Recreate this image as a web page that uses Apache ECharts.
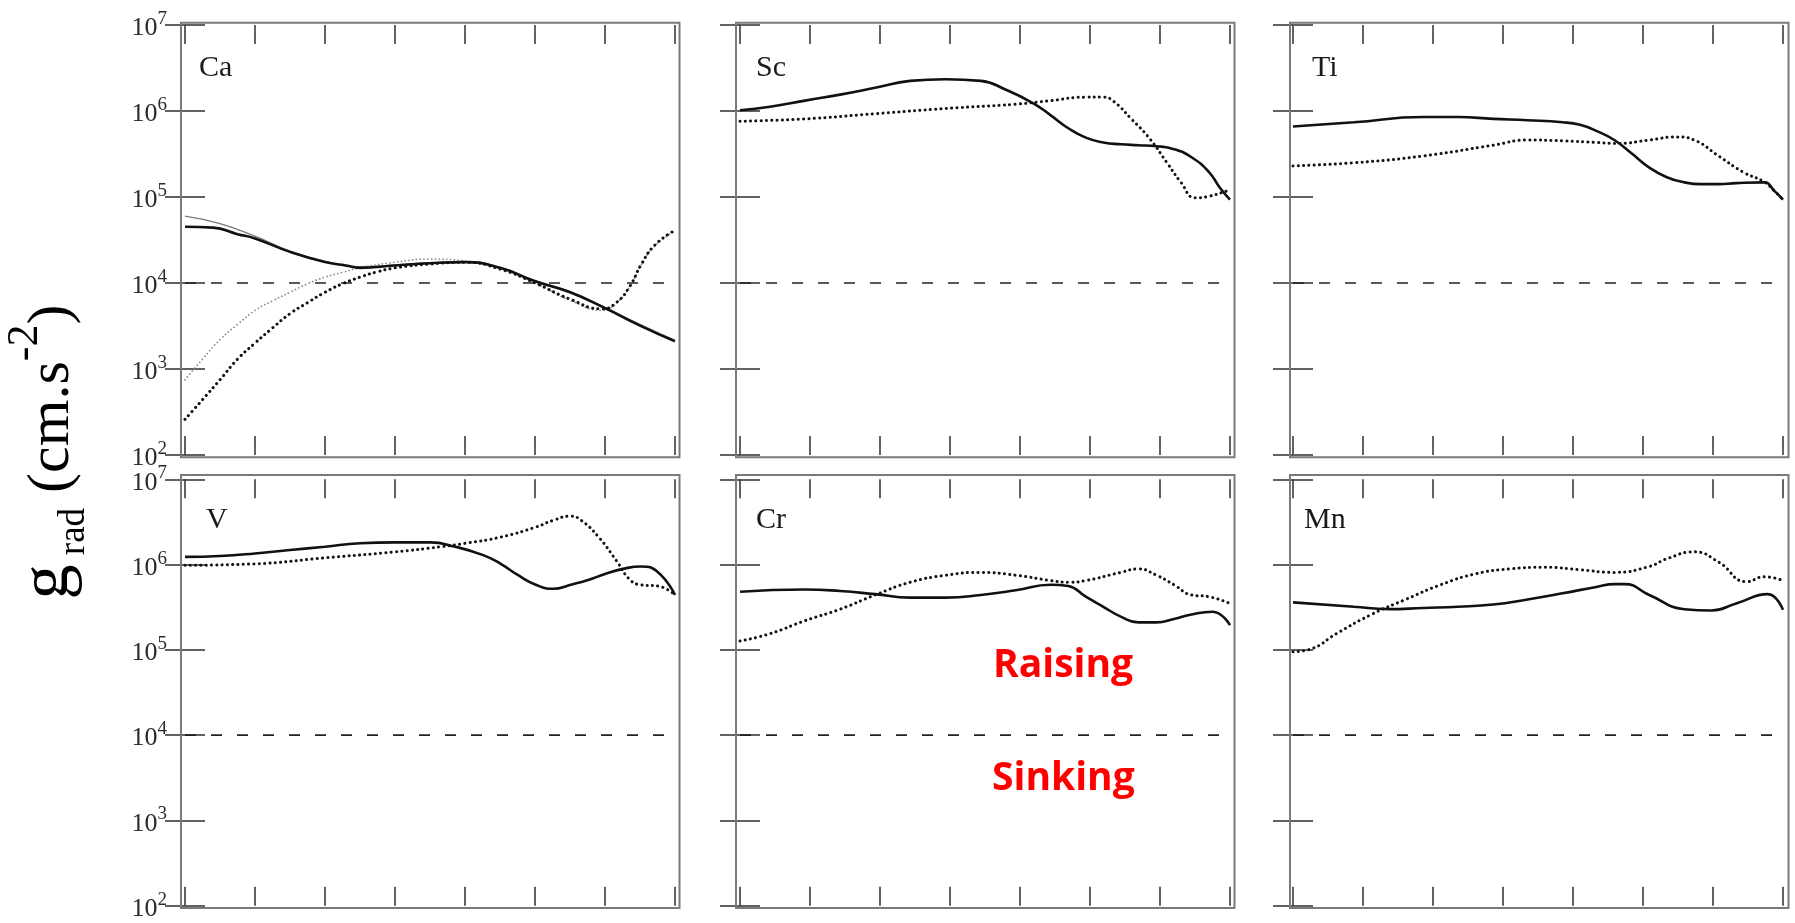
<!DOCTYPE html>
<html>
<head>
<meta charset="utf-8">
<script src="https://cdn.jsdelivr.net/npm/echarts@6/dist/echarts.min.js"></script>
<style>
  html, body { margin: 0; padding: 0; background: #ffffff; }
  #chart { width: 1795px; height: 923px; }
</style>
</head>
<body>
<div id="chart"></div>
<script>
// Radiative accelerations g_rad (cm s^-2) for six elements.
// x runs over the 0..7 tick span of each panel; y is logarithmic.

const elements = ['Ca', 'Sc', 'Ti', 'V', 'Cr', 'Mn'];
const xTicks = [0, 1, 2, 3, 4, 5, 6, 7];
const yTickExponents = [2, 3, 4, 5, 6, 7];
const threshold = [[0, 1e4], [7, 1e4]];

// Ca
const caSolid = [[0, 4.5e4], [0.4, 4.4e4], [0.75, 3.7e4], [1, 3.3e4], [1.5, 2.3e4], [2, 1.75e4], [2.3, 1.6e4], [2.5, 1.5e4], [3, 1.6e4], [3.5, 1.7e4], [4, 1.75e4], [4.5, 1.5e4], [5, 1.05e4], [5.5, 7.8e3], [6, 5.1e3], [6.5, 3.2e3], [7, 2.1e3]];
const caSolidThin = [[0, 6e4], [0.5, 4.9e4], [1, 3.5e4], [1.5, 2.35e4], [2, 1.78e4], [2.5, 1.55e4], [3, 1.62e4], [3.5, 1.72e4], [4, 1.77e4], [4.5, 1.52e4], [5, 1.07e4], [5.5, 8e3], [6, 5.2e3], [6.5, 3.3e3], [7, 2.15e3]];
const caDotted = [[0, 2.6e2], [0.25, 4.4e2], [0.5, 7.5e2], [0.75, 1.3e3], [1, 2.0e3], [1.25, 3.0e3], [1.5, 4.4e3], [1.75, 5.9e3], [2, 7.8e3], [2.25, 9.8e3], [2.5, 1.17e4], [2.75, 1.35e4], [3, 1.5e4], [3.5, 1.66e4], [4, 1.74e4], [4.5, 1.45e4], [5, 1.0e4], [5.5, 6.5e3], [5.96, 5.0e3], [6.16, 5.9e3], [6.36, 9.3e3], [6.51, 1.6e4], [6.71, 2.75e4], [7, 4.1e4]];
const caDottedThin = [[0, 7.5e2], [0.25, 1.3e3], [0.5, 2.2e3], [0.75, 3.3e3], [1, 4.8e3], [1.25, 6.2e3], [1.5, 7.8e3], [1.75, 9.8e3], [2, 1.17e4], [2.25, 1.33e4], [2.5, 1.5e4], [3, 1.74e4], [3.5, 1.9e4], [4, 1.8e4], [4.5, 1.48e4], [5, 1.0e4], [5.5, 6.3e3], [5.96, 4.8e3], [6.16, 5.8e3], [6.36, 9.2e3], [6.51, 1.58e4], [6.71, 2.7e4], [7, 4.0e4]];

// Sc
const scSolid = [[0, 1.02e6], [0.43, 1.12e6], [0.93, 1.32e6], [1.43, 1.55e6], [1.93, 1.86e6], [2.43, 2.24e6], [2.94, 2.34e6], [3.44, 2.24e6], [3.79, 1.78e6], [4.19, 1.23e6], [4.44, 8.9e5], [4.69, 6.3e5], [4.94, 4.9e5], [5.19, 4.3e5], [5.44, 4.1e5], [5.69, 4.0e5], [5.95, 3.9e5], [6.2, 3.6e5], [6.45, 2.9e5], [6.7, 1.95e5], [6.85, 1.3e5], [7, 9.3e4]];
const scDotted = [[0, 7.6e5], [0.93, 8.1e5], [1.93, 9.3e5], [2.94, 1.07e6], [3.94, 1.2e6], [4.44, 1.32e6], [4.94, 1.45e6], [5.19, 1.45e6], [5.34, 1.29e6], [5.59, 8.1e5], [5.85, 4.8e5], [6.1, 2.5e5], [6.3, 1.48e5], [6.5, 9.8e4], [6.7, 1.02e5], [6.95, 1.17e5], [7, 1.2e5]];

// Ti
const tiSolid = [[0, 6.6e5], [0.87, 7.4e5], [1.86, 8.5e5], [2.36, 8.5e5], [2.86, 8.1e5], [3.35, 7.8e5], [3.85, 7.4e5], [4.1, 6.9e5], [4.35, 5.8e5], [4.59, 4.6e5], [4.84, 3.2e5], [5.09, 2.2e5], [5.34, 1.7e5], [5.59, 1.48e5], [5.83, 1.41e5], [6.08, 1.41e5], [6.33, 1.45e5], [6.73, 1.48e5], [6.88, 1.17e5], [7, 9.3e4]];
const tiDotted = [[0, 2.3e5], [0.87, 2.5e5], [1.86, 3.0e5], [2.86, 4.0e5], [3.35, 4.6e5], [3.85, 4.5e5], [4.35, 4.3e5], [4.64, 4.2e5], [5.09, 4.6e5], [5.49, 5.0e5], [5.73, 4.6e5], [6.08, 3.0e5], [6.43, 1.95e5], [6.73, 1.5e5], [6.88, 1.17e5], [7, 9.3e4]];

// V
const vSolid = [[0, 1.23e6], [0.5, 1.26e6], [1, 1.35e6], [1.5, 1.48e6], [2, 1.62e6], [2.5, 1.78e6], [3, 1.82e6], [3.5, 1.82e6], [3.86, 1.62e6], [4.26, 1.29e6], [4.51, 1.02e6], [4.76, 7.5e5], [5.01, 5.8e5], [5.26, 5.2e5], [5.51, 5.8e5], [5.76, 6.6e5], [6.01, 7.8e5], [6.26, 8.9e5], [6.51, 9.5e5], [6.76, 8.1e5], [7, 4.4e5]];
const vDotted = [[0, 9.8e5], [1, 1.02e6], [2, 1.2e6], [3, 1.41e6], [3.66, 1.62e6], [4.01, 1.78e6], [4.51, 2.1e6], [5.01, 2.75e6], [5.26, 3.3e6], [5.51, 3.7e6], [5.66, 3.3e6], [5.91, 2.1e6], [6.16, 1.12e6], [6.36, 6.6e5], [6.51, 5.8e5], [6.76, 5.6e5], [7, 4.4e5]];

// Cr
const crSolid = [[0, 4.8e5], [0.93, 5.1e5], [1.43, 4.9e5], [1.93, 4.5e5], [2.43, 4.1e5], [2.94, 4.1e5], [3.44, 4.4e5], [3.94, 5.0e5], [4.44, 5.8e5], [4.69, 5.6e5], [4.94, 4.2e5], [5.19, 3.2e5], [5.44, 2.45e5], [5.69, 2.1e5], [5.95, 2.1e5], [6.2, 2.3e5], [6.45, 2.6e5], [6.75, 2.8e5], [7, 1.95e5]];
const crDotted = [[0, 1.27e5], [0.43, 1.55e5], [0.93, 2.2e5], [1.43, 3.0e5], [1.93, 4.4e5], [2.43, 6.2e5], [2.94, 7.5e5], [3.44, 8.1e5], [3.94, 7.5e5], [4.44, 6.5e5], [4.69, 6.2e5], [4.94, 6.5e5], [5.44, 8.1e5], [5.69, 8.9e5], [5.95, 7.5e5], [6.2, 5.8e5], [6.45, 4.4e5], [6.7, 4.2e5], [7, 3.5e5]];

// Mn
const mnSolid = [[0, 3.6e5], [0.87, 3.2e5], [1.37, 3.0e5], [1.86, 3.1e5], [2.36, 3.2e5], [2.86, 3.4e5], [3.35, 3.9e5], [3.85, 4.6e5], [4.35, 5.5e5], [4.59, 5.9e5], [4.74, 5.9e5], [5.09, 4.4e5], [5.59, 3.0e5], [5.98, 2.9e5], [6.33, 3.5e5], [6.78, 4.5e5], [7, 2.95e5]];
const mnDotted = [[0, 9.5e4], [0.25, 1.02e5], [0.62, 1.55e5], [1.12, 2.6e5], [1.61, 3.9e5], [2.11, 5.8e5], [2.61, 7.8e5], [3.1, 8.9e5], [3.6, 9.3e5], [4.1, 8.7e5], [4.59, 8.1e5], [5.09, 9.5e5], [5.34, 1.17e6], [5.73, 1.41e6], [6.08, 1.07e6], [6.48, 6.3e5], [6.73, 7.2e5], [7, 6.5e5]];

// Curves drawn in each panel, back to front
const panelCurves = [
  [[caSolidThin, 'thinSolid'], [caDottedThin, 'thinDot'], [caDotted, 'dot'], [caSolid, 'solid']],
  [[scDotted, 'dot'], [scSolid, 'solid']],
  [[tiDotted, 'dot'], [tiSolid, 'solid']],
  [[vDotted, 'dot'], [vSolid, 'solid']],
  [[crDotted, 'dot'], [crSolid, 'solid']],
  [[mnDotted, 'dot'], [mnSolid, 'solid']]
];

// ---- layout and styling ----
const colLeft = [185, 740, 1293];
const plotWidth = 490;
const rowTop = [25, 479.3];
const rowHeight = [430, 426.4];
const frameLeft = [181, 736, 1290];
const frameWidth = 498.5;
const frameTop = [22.7, 475];
const frameHeight = [434.6, 433];
const labelPos = [[199, 68], [756, 68], [1312, 68], [206, 520], [756, 520], [1304, 520]];

const serif = '"Liberation Serif", "Times New Roman", serif';
const tickColor = '#3a3a3a';

const lineStyles = {
  solid: { color: '#111111', width: 2.6, type: 'solid' },
  thinSolid: { color: '#7a7a7a', width: 1.3, type: 'solid' },
  dot: { color: '#111111', width: 3.0, type: [0.1, 5.2], cap: 'round' },
  thinDot: { color: '#8a8a8a', width: 1.7, type: [0.1, 3.7], cap: 'round' },
  dash: { color: '#222222', width: 1.6, type: [11, 15] }
};

const grids = [], xAxes = [], yAxes = [], series = [];

elements.forEach(function (el, i) {
  const col = i % 3, row = Math.floor(i / 3);
  grids.push({
    left: colLeft[col], top: rowTop[row], width: plotWidth, height: rowHeight[row],
    containLabel: false
  });
  ['bottom', 'top'].forEach(function (pos) {
    xAxes.push({
      type: 'value', gridIndex: i, position: pos,
      min: xTicks[0], max: xTicks[xTicks.length - 1], interval: 1,
      axisLine: { show: false },
      axisTick: { show: true, inside: true, length: 19, lineStyle: { color: tickColor, width: 1.6 } },
      axisLabel: { show: false },
      splitLine: { show: false }
    });
  });
  ['left', 'right'].forEach(function (pos) {
    const withLabels = (col === 0 && pos === 'left');
    yAxes.push({
      type: 'log', logBase: 10, gridIndex: i, position: pos,
      min: Math.pow(10, yTickExponents[0]),
      max: Math.pow(10, yTickExponents[yTickExponents.length - 1]),
      splitNumber: yTickExponents.length - 1,
      axisLine: { show: false },
      axisTick: { show: true, inside: true, length: 20, lineStyle: { color: tickColor, width: 1.6 } },
      splitLine: { show: false },
      minorTick: { show: false },
      axisLabel: withLabels ? {
        show: true, margin: 18, showMinLabel: true, showMaxLabel: true,
        formatter: function (v) {
          const e = Math.round(Math.log10(v));
          return '{b|10}{e|' + e + '}';
        },
        rich: {
          b: { fontFamily: serif, fontSize: 26, color: '#2b2b2b', padding: [7, 0, 0, 0] },
          e: { fontFamily: serif, fontSize: 19, color: '#2b2b2b', padding: [0, 0, 12, 0] }
        }
      } : { show: false }
    });
  });

  // sinking / raising boundary
  series.push({
    type: 'line', xAxisIndex: 2 * i, yAxisIndex: 2 * i, data: threshold,
    showSymbol: false, symbol: 'none', silent: true, lineStyle: lineStyles.dash, z: 2
  });
  panelCurves[i].forEach(function (c, k) {
    series.push({
      type: 'line', xAxisIndex: 2 * i, yAxisIndex: 2 * i, data: c[0],
      showSymbol: false, symbol: 'none', silent: true,
      smooth: 0.5,
      lineStyle: lineStyles[c[1]], z: 3 + k
    });
  });
});

// outer frames of the six panels
elements.forEach(function (el, i) {
  const col = i % 3, row = Math.floor(i / 3);
  grids.push({
    show: true, left: frameLeft[col], top: frameTop[row], width: frameWidth, height: frameHeight[row],
    borderColor: '#7a7a7a', borderWidth: 2, backgroundColor: 'transparent', z: 1
  });
});

const graphics = elements.map(function (el, i) {
  return {
    type: 'text', x: labelPos[i][0], y: labelPos[i][1], silent: true,
    style: {
      text: el, font: '30px ' + serif, fill: '#1a1a1a',
      align: 'left', verticalAlign: 'middle', textAlign: 'left', textVerticalAlign: 'middle'
    }
  };
});

// axis title
graphics.push({
  type: 'text', x: 52, y: 452, rotation: Math.PI / 2, silent: true,
  style: {
    text: '{g|g}{s| rad}{m| (cm.s}{u|-2}{m|)}',
    font: '60px ' + serif, fill: '#000',
    align: 'center', verticalAlign: 'middle', textAlign: 'center', textVerticalAlign: 'middle',
    rich: {
      g: { fontFamily: serif, fontSize: 70, fill: '#000', color: '#000', padding: [0, 0, 7, 0] },
      m: { fontFamily: serif, fontSize: 60, fill: '#000', color: '#000' },
      s: { fontFamily: serif, fontSize: 37, fill: '#000', color: '#000', padding: [45, 0, 0, 0] },
      u: { fontFamily: serif, fontSize: 44, fill: '#000', color: '#000', padding: [0, 0, 54, 0] }
    }
  }
});

// region annotations
[['Raising', 993, 666], ['Sinking', 992, 779]].forEach(function (a) {
  graphics.push({
    type: 'text', x: a[1], y: a[2], silent: true,
    style: {
      text: a[0], font: 'bold 39px "Open Sans", sans-serif', fill: '#ff0000',
      align: 'left', verticalAlign: 'middle', textAlign: 'left', textVerticalAlign: 'middle'
    }
  });
});

const chart = echarts.init(document.getElementById('chart'), null, { renderer: 'canvas' });
chart.setOption({
  animation: false,
  backgroundColor: '#ffffff',
  grid: grids,
  xAxis: xAxes,
  yAxis: yAxes,
  series: series,
  graphic: graphics
});
</script>
</body>
</html>
